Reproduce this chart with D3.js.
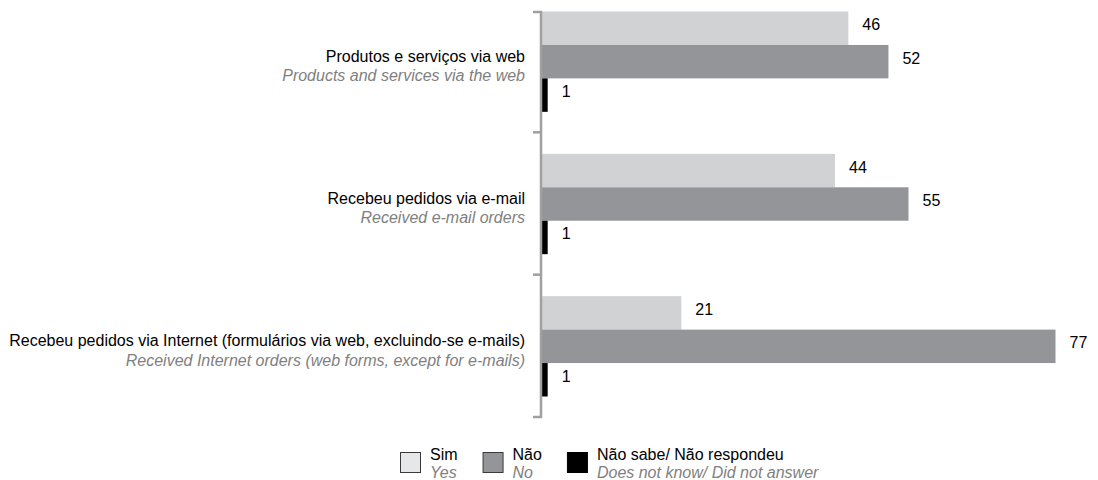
<!DOCTYPE html>
<html lang="pt">
<head>
<meta charset="UTF-8">
<title></title>
<script src="https://cdn.jsdelivr.net/npm/d3@7"></script>
<style>
  body { margin: 0; background: #fff; }
  text { font-family: "Liberation Sans", Arial, sans-serif; }
</style>
</head>
<body>
<svg class="chart"></svg>
<script>
  // dados
  const categories = [
    'Produtos e serviços via web',
    'Recebeu pedidos via e-mail',
    'Recebeu pedidos via Internet (formulários via web, excluindo-se e-mails)'
  ];
  const categoriesEn = [
    'Products and services via the web',
    'Received e-mail orders',
    'Received Internet orders (web forms, except for e-mails)'
  ];
  const seriesNames = ['Sim', 'Não', 'Não sabe/ Não respondeu'];
  const seriesNamesEn = ['Yes', 'No', 'Does not know/ Did not answer'];
  const simValues = [46, 44, 21];
  const naoValues = [52, 55, 77];
  const nsValues = [1, 1, 1];

  const colors = ['#d1d2d4', '#939598', '#000000'];
  const legendFill = ['#e6e7e8', '#939598', '#000000'];

  const width = 1098, height = 480;
  const axisX = 541, axisTop = 12, axisBottom = 417;
  const fontSize = '16px';

  const svg = d3.select('.chart')
      .attr('width', width)
      .attr('height', height);

  const rows = categories.map((c, i) => ({
    cat: c,
    en: categoriesEn[i],
    vals: [simValues[i], naoValues[i], nsValues[i]]
  }));

  const y = d3.scaleBand()
      .domain(categories)
      .range([-10, axisBottom]);

  const ySeries = d3.scaleBand()
      .domain(d3.range(3))
      .range([21.5, y.bandwidth() - 20.5]);

  const x = d3.scaleLinear()
      .domain([0, 77])
      .range([axisX, 1055.5]);

  // barras
  const groups = svg.selectAll('g.row').data(rows)
      .enter().append('g')
      .attr('class', 'row')
      .attr('transform', d => `translate(0,${y(d.cat)})`);

  groups.selectAll('rect').data(d => d.vals)
      .enter().append('rect')
      .attr('x', x(0))
      .attr('y', (d, i) => ySeries(i))
      .attr('width', d => x(d) - x(0))
      .attr('height', ySeries.bandwidth())
      .attr('fill', (d, i) => colors[i]);

  groups.selectAll('text.val').data(d => d.vals)
      .enter().append('text')
      .attr('class', 'val')
      .attr('x', d => x(d) + 14)
      .attr('y', (d, i) => ySeries(i) + ySeries.bandwidth() / 2 + 2)
      .style('font-size', fontSize)
      .attr('fill', '#000')
      .text(d => d);

  // rótulos das categorias
  groups.append('text')
      .attr('x', 525)
      .attr('y', y.bandwidth() / 2 + 0.5)
      .attr('text-anchor', 'end')
      .style('font-size', fontSize)
      .attr('fill', '#000')
      .text(d => d.cat);

  groups.append('text')
      .attr('x', 525)
      .attr('y', y.bandwidth() / 2 + 20)
      .attr('text-anchor', 'end')
      .style('font-size', fontSize)
      .style('font-style', 'italic')
      .attr('fill', '#808080')
      .text(d => d.en);

  // eixo
  const tickPos = categories.map(c => y(c) + y.bandwidth());
  svg.append('path')
      .attr('d', `M${axisX - 8},${axisTop}H${axisX}V${axisBottom}H${axisX - 8}`)
      .attr('fill', 'none')
      .attr('stroke', '#a0a0a0')
      .attr('stroke-width', 2.5);

  svg.selectAll('line.tick').data(tickPos.slice(0, -1))
      .enter().append('line')
      .attr('class', 'tick')
      .attr('x1', axisX - 8).attr('x2', axisX)
      .attr('y1', d => d).attr('y2', d => d)
      .attr('stroke', '#a0a0a0')
      .attr('stroke-width', 2.5);

  // legenda
  const legend = svg.append('g').attr('transform', 'translate(400,452)');
  let lx = 0;
  seriesNames.forEach((name, i) => {
    const item = legend.append('g').attr('transform', `translate(${lx},0)`);
    item.append('rect')
        .attr('x', 0.5).attr('y', 0.5)
        .attr('width', 20).attr('height', 20)
        .attr('fill', legendFill[i])
        .attr('stroke', i === 2 ? '#000' : '#3a3a3a')
        .attr('stroke-width', 1);
    const t1 = item.append('text')
        .attr('x', 30).attr('y', 8)
        .style('font-size', fontSize)
        .attr('fill', '#000')
        .text(name);
    const t2 = item.append('text')
        .attr('x', 30).attr('y', 26)
        .style('font-size', fontSize)
        .style('font-style', 'italic')
        .attr('fill', '#808080')
        .text(seriesNamesEn[i]);
    const w = Math.max(t1.node().getComputedTextLength(), t2.node().getComputedTextLength());
    lx += 30 + w + 25;
  });
</script>
</body>
</html>
